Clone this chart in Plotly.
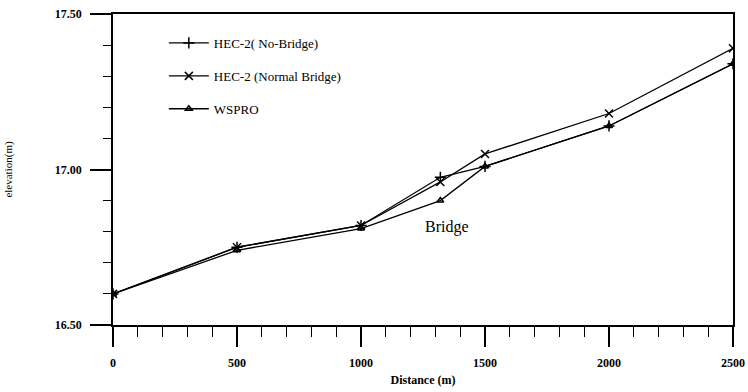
import plotly.graph_objects as go

distance = [0, 500, 1000, 1320, 1500, 2000, 2500]
hec2_no_bridge = [16.60, 16.75, 16.82, 16.975, 17.01, 17.14, 17.34]
hec2_normal_bridge = [16.60, 16.75, 16.82, 16.96, 17.05, 17.18, 17.39]
wspro = [16.60, 16.74, 16.81, 16.90, 17.01, 17.14, 17.34]

x_ticks = [0, 500, 1000, 1500, 2000, 2500]
y_ticks = [16.5, 17.0, 17.5]
y_tick_labels = ["16.50", "17.00", "17.50"]

FONT = "Liberation Serif"

fig = go.Figure()
series = [
    ("HEC-2( No-Bridge)", hec2_no_bridge, "cross-thin", 8),
    ("HEC-2 (Normal Bridge)", hec2_normal_bridge, "x-thin", 8),
    ("WSPRO", wspro, "triangle-up-open", 6),
]
for i, (name, vals, sym, size) in enumerate(series):
    fig.add_trace(go.Scatter(
        x=distance, y=vals, name=name, mode="lines+markers",
        line=dict(color="black", width=1.3),
        marker=dict(symbol=sym, size=size, color="black",
                    line=dict(color="black", width=1.5)),
        legendgroup=f"g{i}",
    ))

fig.add_annotation(x=1345, y=16.815, text="Bridge", showarrow=False,
                   font=dict(family=FONT, size=16, color="black"))

fig.update_layout(
    width=748, height=392,
    margin=dict(l=113, r=15, t=14, b=67, autoexpand=False),
    paper_bgcolor="white", plot_bgcolor="white",
    font=dict(family=FONT, color="black"),
    showlegend=True,
    legend=dict(x=0.082, y=0.955, xanchor="left", yanchor="top",
                font=dict(family=FONT, size=13, color="black"),
                bgcolor="rgba(0,0,0,0)", tracegroupgap=13,
                itemwidth=40),
    xaxis=dict(
        range=[0, 2500], tickvals=x_ticks, ticks="outside", ticklen=20,
        tickwidth=1.5, tickcolor="black", ticklabelstandoff=6,
        automargin=False,
        showline=True, linecolor="black", linewidth=1.5, mirror=True,
        showgrid=False, zeroline=False,
        tickfont=dict(family=FONT, size=12, color="black", weight="bold"),
        minor=dict(dtick=100, ticks="outside", ticklen=10, tickwidth=1.2,
                   tickcolor="black", showgrid=False),
        title=dict(text="Distance (m)", standoff=6,
                   font=dict(family=FONT, size=12, color="black", weight="bold")),
    ),
    yaxis=dict(
        range=[16.5, 17.5], tickvals=y_ticks, ticktext=y_tick_labels,
        ticks="outside", ticklen=21, tickwidth=1.5, tickcolor="black",
        ticklabelstandoff=6, automargin=False,
        showline=True, linecolor="black", linewidth=1.5, mirror=True,
        showgrid=False, zeroline=False,
        tickfont=dict(family=FONT, size=12, color="black", weight="bold"),
        minor=dict(dtick=0.1, ticks="outside", ticklen=8, tickwidth=1.2,
                   tickcolor="black", showgrid=False),
        title=dict(text="elevation(m)", standoff=40,
                   font=dict(family=FONT, size=11, color="black")),
    ),
)

fig.write_html("out.html")
